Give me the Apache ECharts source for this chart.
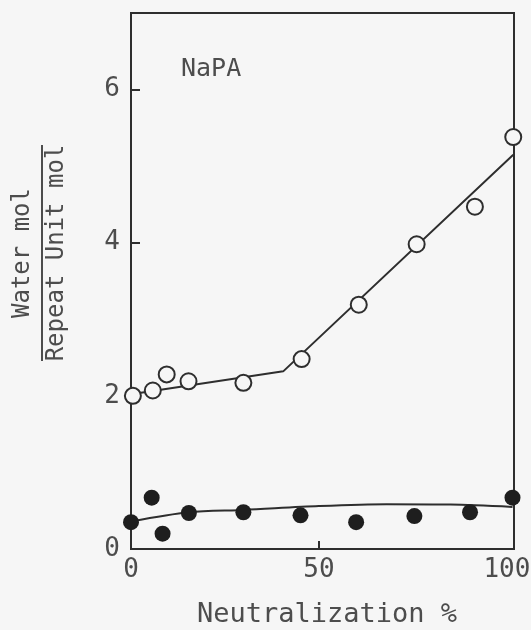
<!DOCTYPE html>
<html>
<head>
<meta charset="utf-8">
<title>NaPA hydration water</title>
<script src="https://cdn.jsdelivr.net/npm/echarts@6/dist/echarts.min.js"></script>
<style>
  html, body { margin: 0; padding: 0; background: #f6f6f6; }
  #chart { width: 531px; height: 630px; }
</style>
</head>
<body>
<div id="chart"></div>
<script>
// Water per repeat unit vs. degree of neutralization (NaPA)
const openX   = [0.5, 5.8, 9.5, 15.3, 29.9, 45.4, 60.6, 76.0, 91.5, 101.7];
const openY   = [2.00, 2.07, 2.28, 2.19, 2.17, 2.48, 3.19, 3.98, 4.47, 5.38];
const filledX = [0, 5.5, 8.4, 15.4, 29.9, 45.1, 59.9, 75.4, 90.2, 101.5];
const filledY = [0.35, 0.67, 0.20, 0.47, 0.48, 0.44, 0.35, 0.43, 0.48, 0.67];

// hand-drawn trend curves
const openFitX   = [0, 40.5, 101.7];
const openFitY   = [2.02, 2.32, 5.15];
const filledFitX = [0, 15.4, 30, 50, 68, 85, 101.5];
const filledFitY = [0.36, 0.48, 0.51, 0.56, 0.585, 0.58, 0.55];

const xTicks = [0, 50, 100];
const yTicks = [0, 2, 4, 6];

const zip = (xs, ys) => xs.map((x, i) => [x, ys[i]]);

const INK = '#2e2e2e';
const TEXT = '#4d4d4d';
const BG = '#f6f6f6';
const MONO = '"DejaVu Sans Mono", "Liberation Mono", monospace';

const chart = echarts.init(document.getElementById('chart'), null, { renderer: 'canvas' });

chart.setOption({
  backgroundColor: BG,
  animation: false,
  grid: {
    left: 131, right: 17, top: 13, bottom: 81,
    show: true, borderColor: INK, borderWidth: 2,
    backgroundColor: 'transparent',
    containLabel: false, outerBoundsMode: 'none'
  },
  xAxis: {
    type: 'value', min: 0, max: 101.9, interval: 50,
    splitLine: { show: false },
    axisLine: { show: true, lineStyle: { color: INK, width: 2 } },
    axisTick: { show: true, inside: true, length: 8, customValues: [50],
                lineStyle: { color: INK, width: 2 } },
    axisLabel: { customValues: xTicks, margin: 8, color: TEXT,
                 fontFamily: MONO, fontSize: 26 }
  },
  yAxis: {
    type: 'value', min: 0, max: 7, interval: 2,
    splitLine: { show: false },
    axisLine: { show: true, lineStyle: { color: INK, width: 2 } },
    axisTick: { show: true, inside: true, length: 9, customValues: [2, 4, 6],
                lineStyle: { color: INK, width: 2 } },
    axisLabel: { customValues: yTicks, margin: 11, color: TEXT,
                 fontFamily: MONO, fontSize: 26 }
  },
  series: [
    {
      type: 'line', data: zip(openFitX, openFitY), showSymbol: false,
      lineStyle: { color: INK, width: 2 }, z: 2, silent: true
    },
    {
      type: 'line', data: zip(filledFitX, filledFitY), showSymbol: false, smooth: 0.3,
      lineStyle: { color: INK, width: 2 }, z: 2, silent: true
    },
    {
      type: 'scatter', data: zip(openX, openY), symbol: 'circle', symbolSize: 16,
      clip: false, z: 3,
      itemStyle: { color: BG, borderColor: INK, borderWidth: 2, opacity: 1 }
    },
    {
      type: 'scatter', data: zip(filledX, filledY), symbol: 'circle', symbolSize: 16,
      clip: false, z: 3,
      itemStyle: { color: '#1e1e1e', opacity: 1 }
    }
  ],
  graphic: [
    {
      type: 'text', x: 181, y: 69,
      style: { text: 'NaPA', font: '25px ' + MONO, fill: TEXT,
               align: 'left', verticalAlign: 'middle' }
    },
    {
      type: 'text', x: 327, y: 615,
      style: { text: 'Neutralization %', font: '27px ' + MONO, fill: TEXT,
               align: 'center', verticalAlign: 'middle' }
    },
    {
      type: 'group', x: 42, y: 253, rotation: Math.PI / 2,
      children: [
        {
          type: 'line', shape: { x1: -108, y1: 0, x2: 108, y2: 0 },
          style: { stroke: TEXT, lineWidth: 2 }
        },
        {
          type: 'text', x: 0, y: -19,
          style: { text: 'Water mol', font: '24px ' + MONO, fill: TEXT,
                   align: 'center', verticalAlign: 'middle' }
        },
        {
          type: 'text', x: 0, y: 15,
          style: { text: 'Repeat Unit mol', font: '24px ' + MONO, fill: TEXT,
                   align: 'center', verticalAlign: 'middle' }
        }
      ]
    }
  ]
});
</script>
</body>
</html>
